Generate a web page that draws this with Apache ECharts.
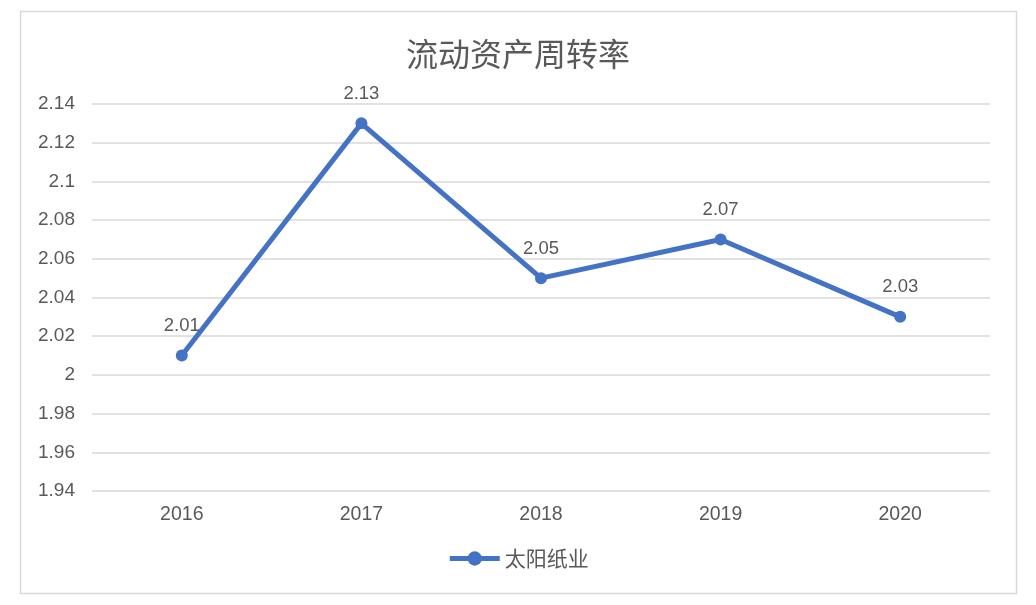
<!DOCTYPE html>
<html>
<head>
<meta charset="utf-8">
<script src="https://cdn.jsdelivr.net/npm/echarts@6/dist/echarts.min.js"></script>
<style>
html,body{margin:0;padding:0;background:#fff;}
#main{width:1036px;height:605px;}
</style>
</head>
<body>
<div id="main"></div>
<script>
var years = ['2016', '2017', '2018', '2019', '2020'];
var turnover = [2.01, 2.13, 2.05, 2.07, 2.03];
var seriesName = '太阳纸业';
var chartTitle = '流动资产周转率';

var chart = echarts.init(document.getElementById('main'));

var option = {
    backgroundColor: '#fff',
    animation: false,
    title: {
        text: chartTitle,
        left: 'center',
        top: 33,
        textStyle: {
            fontFamily: 'Noto Sans CJK SC',
            fontSize: 32,
            fontWeight: 'normal',
            color: '#595959'
        }
    },
    legend: {
        bottom: 31,
        left: 'center',
        itemWidth: 50,
        itemHeight: 18,
        itemGap: 10,
        itemStyle: { color: '#4472C4' },
        lineStyle: { color: '#4472C4', width: 5 },
        textStyle: {
            fontFamily: 'Noto Sans CJK SC',
            fontSize: 21,
            color: '#595959',
            padding: [0, 0, 0, 0]
        },
        data: [seriesName]
    },
    grid: {
        left: 92,
        right: 46,
        top: 104,
        bottom: 114
    },
    xAxis: {
        type: 'category',
        data: years,
        axisLine: { show: false },
        axisTick: { show: false },
        axisLabel: {
            margin: 14,
            fontFamily: 'Liberation Sans',
            fontSize: 19.5,
            color: '#595959'
        }
    },
    yAxis: {
        type: 'value',
        min: 1.94,
        max: 2.14,
        interval: 0.02,
        axisLine: { show: false },
        axisTick: { show: false },
        splitLine: { lineStyle: { color: '#d9d9d9', width: 1.5 } },
        axisLabel: {
            margin: 17,
            fontFamily: 'Liberation Sans',
            fontSize: 19,
            color: '#595959',
            formatter: function (v) { return String(parseFloat(v.toFixed(2))); }
        }
    },
    series: [{
        name: seriesName,
        type: 'line',
        data: turnover,
        symbol: 'circle',
        symbolSize: 12,
        lineStyle: { color: '#4472C4', width: 5 },
        itemStyle: { color: '#4472C4' },
        label: {
            show: true,
            position: 'top',
            distance: 14,
            fontFamily: 'Liberation Sans',
            fontSize: 18.5,
            color: '#595959'
        }
    }],
    graphic: [{
        type: 'rect',
        shape: { x: 20.5, y: 11.5, width: 996, height: 582 },
        style: { fill: 'none', stroke: '#d9d9d9', lineWidth: 1.5 },
        silent: true
    }]
};

chart.setOption(option);
</script>
</body>
</html>
